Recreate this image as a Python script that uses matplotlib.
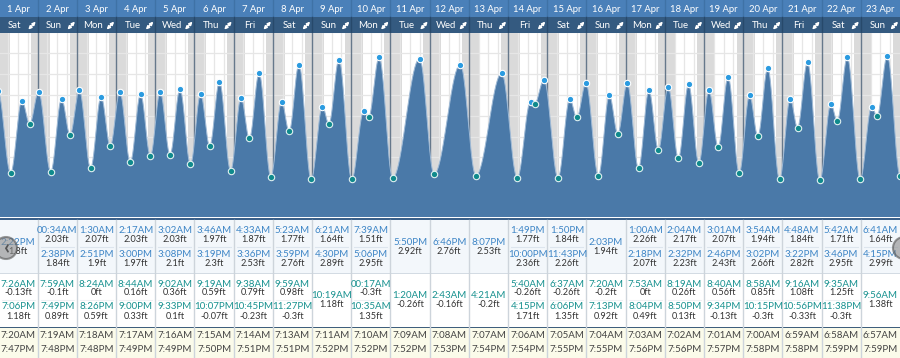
import matplotlib
matplotlib.use('Agg')
import matplotlib.pyplot as plt
import numpy as np
from matplotlib.patches import Circle

plt.rcParams['font.family'] = ['Lato', 'DejaVu Sans']

# ---------------- data ----------------
dates = ['1 Apr', '2 Apr', '3 Apr', '4 Apr', '5 Apr', '6 Apr', '7 Apr', '8 Apr',
         '9 Apr', '10 Apr', '11 Apr', '12 Apr', '13 Apr', '14 Apr', '15 Apr',
         '16 Apr', '17 Apr', '18 Apr', '19 Apr', '20 Apr', '21 Apr', '22 Apr', '23 Apr']
weekdays = ['Sat', 'Sun', 'Mon', 'Tue', 'Wed', 'Thu', 'Fri', 'Sat', 'Sun', 'Mon', 'Tue',
            'Wed', 'Thu', 'Fri', 'Sat', 'Sun', 'Mon', 'Tue', 'Wed', 'Thu', 'Fri', 'Sat', 'Sun']

high_times = [['2:22PM'], ['00:34AM', '2:38PM'], ['1:30AM', '2:51PM'], ['2:17AM', '3:00PM'],
              ['3:02AM', '3:08PM'], ['3:46AM', '3:19PM'], ['4:33AM', '3:36PM'],
              ['5:23AM', '3:59PM'], ['6:21AM', '4:30PM'], ['7:39AM', '5:06PM'], ['5:50PM'],
              ['6:46PM'], ['8:07PM'], ['1:49PM', '10:00PM'], ['1:50PM', '11:43PM'], ['2:03PM'],
              ['1:00AM', '2:18PM'], ['2:04AM', '2:32PM'], ['3:01AM', '2:46PM'],
              ['3:54AM', '3:02PM'], ['4:48AM', '3:22PM'], ['5:42AM', '3:46PM'],
              ['6:41AM', '4:15PM']]
high_heights = [[1.8], [2.03, 1.84], [2.07, 1.9], [2.03, 1.97], [2.03, 2.1], [1.97, 2.3],
                [1.87, 2.53], [1.77, 2.76], [1.64, 2.89], [1.51, 2.95], [2.92], [2.76], [2.53],
                [1.77, 2.36], [1.84, 2.26], [1.94], [2.26, 2.07], [2.17, 2.23], [2.07, 2.43],
                [1.94, 2.66], [1.84, 2.82], [1.71, 2.95], [1.64, 2.99]]
low_times = [['7:26AM', '7:06PM'], ['7:59AM', '7:49PM'], ['8:24AM', '8:26PM'],
             ['8:44AM', '9:00PM'], ['9:02AM', '9:33PM'], ['9:19AM', '10:07PM'],
             ['9:38AM', '10:45PM'], ['9:59AM', '11:27PM'], ['10:19AM'], ['00:17AM', '10:35AM'],
             ['1:20AM'], ['2:43AM'], ['4:21AM'], ['5:40AM', '4:15PM'], ['6:37AM', '6:06PM'],
             ['7:20AM', '7:13PM'], ['7:53AM', '8:04PM'], ['8:19AM', '8:50PM'],
             ['8:40AM', '9:34PM'], ['8:58AM', '10:15PM'], ['9:16AM', '10:56PM'],
             ['9:35AM', '11:38PM'], ['9:56AM']]
low_heights = [[-0.13, 1.18], [-0.1, 0.89], [0.0, 0.59], [0.16, 0.33], [0.36, 0.1],
               [0.59, -0.07], [0.79, -0.23], [0.98, -0.3], [1.18], [-0.3, 1.35], [-0.26],
               [-0.16], [-0.2], [-0.26, 1.71], [-0.26, 1.35], [-0.2, 0.92], [0.0, 0.49],
               [0.26, 0.13], [0.56, -0.13], [0.85, -0.3], [1.08, -0.33], [1.25, -0.3], [1.38]]
sunrise = ['7:20AM', '7:19AM', '7:18AM', '7:17AM', '7:16AM', '7:15AM', '7:14AM', '7:13AM',
           '7:11AM', '7:10AM', '7:09AM', '7:08AM', '7:07AM', '7:06AM', '7:05AM', '7:04AM',
           '7:03AM', '7:02AM', '7:01AM', '7:00AM', '6:59AM', '6:58AM', '6:57AM']
sunset = ['7:47PM', '7:48PM', '7:48PM', '7:49PM', '7:49PM', '7:50PM', '7:51PM', '7:51PM',
          '7:52PM', '7:52PM', '7:52PM', '7:53PM', '7:54PM', '7:54PM', '7:55PM', '7:55PM',
          '7:56PM', '7:56PM', '7:57PM', '7:58PM', '7:58PM', '7:59PM', '7:59PM']
# extremes just outside the table (31 Mar high, 24 Apr low)
edge_high = (-1, '11:40PM', 2.05)
edge_low = (23, '00:05AM', -0.2)


def hours(s):
    hh, rest = s.split(':')
    mm = int(rest[:2])
    h = int(hh) % 12
    if rest.endswith('PM'):
        h += 12
    return (h + mm / 60.0) / 24.0


# ---------------- layout ----------------
W, H = 900, 358
X0 = -1.5
COLW = (W - X0) / 23.0
CH_TOP, CH_BOT = 33, 217.5
ZERO_PX, PX_FT = 168.05, 37.5

fig = plt.figure(figsize=(W / 100, H / 100), dpi=100)
fig.patch.set_facecolor('white')

ax_pos_l = X0 / W
ax_w = 23 * COLW / W

# chart
ax = fig.add_axes([ax_pos_l, 1 - CH_BOT / H, ax_w, (CH_BOT - CH_TOP) / H])
ax.set_xlim(0, 23)
ax.set_ylim((ZERO_PX - CH_BOT) / PX_FT, (ZERO_PX - CH_TOP) / PX_FT)
ax.axis('off')

for i in range(23):
    sr = i + hours(sunrise[i])
    ss = i + hours(sunset[i])
    ax.axvspan(i, sr, color='#dadada', lw=0, zorder=0)
    ax.axvspan(ss, i + 1, color='#dadada', lw=0, zorder=0)
    for q in (0.25, 0.5, 0.75):
        ax.axvline(i + q, color='#e6e6e6', lw=0.9, zorder=1)

grid_ft = 3.06 - 0.555 * np.arange(-2, 9)
for g in grid_ft:
    ax.axhline(g, color='#e6e6e6', lw=0.9, zorder=1)
for i in range(1, 23):
    ax.axvline(i, color='#66788b', lw=1.0, zorder=2)

# extremes sorted in time
ev_t, ev_h, ev_kind = [], [], []
for i in range(23):
    for s, v in zip(high_times[i], high_heights[i]):
        ev_t.append(i + hours(s)); ev_h.append(v); ev_kind.append('H')
    for s, v in zip(low_times[i], low_heights[i]):
        ev_t.append(i + hours(s)); ev_h.append(v); ev_kind.append('L')
ev_t.append(edge_high[0] + hours(edge_high[1])); ev_h.append(edge_high[2]); ev_kind.append('H')
ev_t.append(edge_low[0] + hours(edge_low[1])); ev_h.append(edge_low[2]); ev_kind.append('L')
order = np.argsort(ev_t)
ev_t = np.array(ev_t)[order]
ev_h = np.array(ev_h)[order]
ev_kind = np.array(ev_kind)[order]

# smooth tide curve between consecutive extremes (cosine rendering)
cx, cy = [], []
for k in range(len(ev_t) - 1):
    t1, t2, h1, h2 = ev_t[k], ev_t[k + 1], ev_h[k], ev_h[k + 1]
    u = np.linspace(0, 1, 40, endpoint=False)
    cx.append(t1 + u * (t2 - t1))
    cy.append((h1 + h2) / 2 + (h1 - h2) / 2 * np.cos(np.pi * u))
cx = np.concatenate(cx + [[ev_t[-1]]])
cy = np.concatenate(cy + [[ev_h[-1]]])
ax.fill_between(cx, cy, -5, color='#4a79a8', lw=0, zorder=3)
ax.plot(cx, cy, color='#9fbad6', lw=0.7, zorder=4)

hm = ev_kind == 'H'
ax.plot(ev_t[hm], ev_h[hm], 'o', ms=4.6, mfc='#2b9be0', mec='white', mew=0.8, zorder=5)
ax.plot(ev_t[~hm], ev_h[~hm], 'o', ms=4.6, mfc='#0f8a8c', mec='#dff0f0', mew=0.8, zorder=5)

# header
hx = fig.add_axes([ax_pos_l, 1 - CH_TOP / H, ax_w, CH_TOP / H])
hx.set_xlim(0, 23)
hx.set_ylim(CH_TOP, 0)
hx.axis('off')
hx.axhspan(0, 17, color='#4a80b9', lw=0)
hx.axhspan(17, 33, color='#345a80', lw=0)
for i in range(1, 23):
    hx.plot([i, i], [0, 17], color='#3f72a6', lw=1)
    hx.plot([i, i], [17, 33], color='#27496b', lw=1)
for i in range(23):
    hx.text(i + 0.5, 9, dates[i], ha='center', va='center', color='white', fontsize=6.8)
    hx.text(i + 0.42, 25.5, weekdays[i], ha='center', va='center', color='white', fontsize=6.9)
    # expand icon (double diagonal arrow), drawn as a shape
    hx.annotate('', xy=(i + 0.95, 21.6), xytext=(i + 0.76, 29.6),
                arrowprops=dict(arrowstyle='<|-|>', color='white', lw=1.1,
                                mutation_scale=4.5, shrinkA=0, shrinkB=0))

# table
tx = fig.add_axes([ax_pos_l, 0, ax_w, (H - CH_BOT) / H])
tx.set_xlim(0, 23)
tx.set_ylim(H, CH_BOT)
tx.axis('off')
tx.axhspan(217.5, 220, color='#3b6089', lw=0)
tx.axhspan(220, 272.5, color='#f3f7fb', lw=0)
tx.axhspan(272.5, 273.5, color='#d3dbe3', lw=0)
tx.axhspan(273.5, 326.5, color='#ffffff', lw=0)
tx.axhspan(326.5, 328.2, color='#3f5f7d', lw=0)
tx.axhspan(328.2, 358, color='#fbfbea', lw=0)
for i in range(1, 23):
    tx.plot([i, i], [220, 358], color='#cdd4db', lw=1)

HT_COL, LT_COL, VAL_COL, SUN_COL = '#3d85c6', '#17918f', '#333333', '#444444'
TFS, VFS = 7.0, 6.6
for i in range(23):
    c = i + 0.5
    ht, hh = high_times[i], high_heights[i]
    if len(ht) == 2:
        ys = [(230.5, 239.7), (254.0, 263.0)]
        tx.plot([i + 0.08, i + 0.92], [247, 247], color='#dde5ee', lw=0.8)
    else:
        ys = [(242.3, 251.3)]
    for (yt, yv), s, v in zip(ys, ht, hh):
        tx.text(c, yt, s, ha='center', va='center', color=HT_COL, fontsize=TFS)
        tx.text(c, yv, f'{v:g}ft', ha='center', va='center', color=VAL_COL, fontsize=VFS)
    lt, lh = low_times[i], low_heights[i]
    if len(lt) == 2:
        ys = [(284.0, 292.8), (306.8, 316.0)]
        tx.plot([i + 0.08, i + 0.92], [299.6, 299.6], color='#eef1f4', lw=0.8)
    else:
        ys = [(295.3, 304.7)]
    for (yt, yv), s, v in zip(ys, lt, lh):
        tx.text(c, yt, s, ha='center', va='center', color=LT_COL, fontsize=TFS)
        tx.text(c, yv, f'{v:g}ft', ha='center', va='center', color=VAL_COL, fontsize=VFS)
    tx.text(c, 335.3, sunrise[i], ha='center', va='center', color=SUN_COL, fontsize=TFS)
    tx.text(c, 349.2, sunset[i], ha='center', va='center', color=SUN_COL, fontsize=TFS)

# navigation arrows overlay (semi-transparent round buttons)
ov = fig.add_axes([0, 0, 1, 1])
ov.set_xlim(0, W)
ov.set_ylim(H, 0)
ov.axis('off')
for cxp, ch in ((6, '\u2039'), (904, '\u203a')):
    ov.add_patch(Circle((cxp, 248), 11, facecolor='#8a8a8a', edgecolor='#555555',
                        alpha=0.6, lw=1.5, zorder=5))
    ov.text(cxp + (1.5 if cxp < 100 else -1.5), 247, ch, ha='center', va='center',
            color='#4a4a4a', fontsize=15, fontweight='bold', alpha=0.9, zorder=6)

fig.savefig('out.png', dpi=100, facecolor='white')
